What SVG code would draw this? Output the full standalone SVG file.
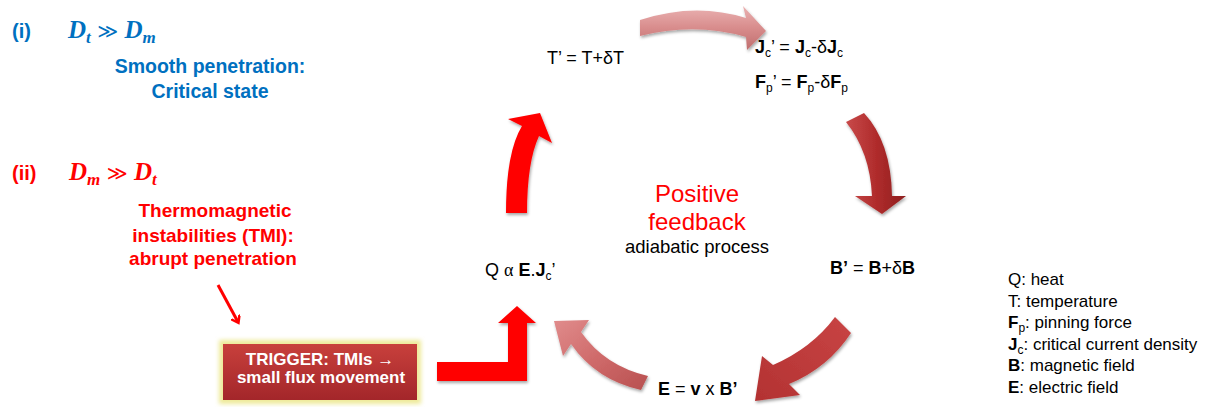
<svg xmlns="http://www.w3.org/2000/svg" width="1207" height="407" viewBox="0 0 1207 407">
<style>
.cal{font-family:"Liberation Sans",Arial,sans-serif;}
.b{font-weight:bold;}
.blue{fill:#0070C0;}
.red{fill:#FF0000;}
.math{font-family:"Liberation Serif","Times New Roman",serif;font-weight:bold;font-style:italic;}
.eq{font-family:"Liberation Sans",Arial,sans-serif;font-size:18px;fill:#000;}
.leg{font-family:"Liberation Sans",Arial,sans-serif;font-size:17px;fill:#000;}
.ctr{text-anchor:middle;}
</style>
<defs>
<linearGradient id="pinkTop" x1="0" y1="0" x2="0" y2="1">
<stop offset="0" stop-color="#eab2b2"/>
<stop offset="0.5" stop-color="#d88c8c"/>
<stop offset="1" stop-color="#c06e6e"/>
</linearGradient>
<linearGradient id="pinkBot" x1="0" y1="0" x2="1" y2="1">
<stop offset="0" stop-color="#e08c8c"/>
<stop offset="0.5" stop-color="#cf6a6a"/>
<stop offset="1" stop-color="#b85050"/>
</linearGradient>
<linearGradient id="darkRed" x1="0" y1="0" x2="1" y2="0">
<stop offset="0" stop-color="#c84a4a"/>
<stop offset="0.5" stop-color="#b02c2c"/>
<stop offset="1" stop-color="#8e1e1e"/>
</linearGradient>
<linearGradient id="darkRed2" x1="1" y1="0" x2="0" y2="1">
<stop offset="0" stop-color="#c84444"/>
<stop offset="1" stop-color="#b33232"/>
</linearGradient>
<linearGradient id="trig" x1="0" y1="0" x2="0" y2="1">
<stop offset="0" stop-color="#c8403c"/>
<stop offset="1" stop-color="#a3262a"/>
</linearGradient>
<filter id="sh" x="-20%" y="-20%" width="140%" height="140%">
<feDropShadow dx="1" dy="2" stdDeviation="1.5" flood-color="#000" flood-opacity="0.35"/>
</filter>
<filter id="glow" x="-20%" y="-30%" width="140%" height="160%">
<feGaussianBlur stdDeviation="2"/>
</filter>
<marker id="ah" markerWidth="10" markerHeight="10" refX="6" refY="5" orient="auto" markerUnits="userSpaceOnUse">
<path d="M0,0 L7,5 L0,10" fill="none" stroke="#FF0000" stroke-width="2.5"/>
</marker>
</defs>
<rect width="1207" height="407" fill="#fff"/>

<g id="note-i">
<text x="12" y="38" class="cal b blue" font-size="20">(i)</text>
<text x="68" y="38" class="math blue" font-size="25">D<tspan font-size="17" dy="5">t</tspan><tspan dy="-5" font-style="normal" font-weight="normal" font-family="DejaVu Sans, sans-serif" font-size="20"> ≫ </tspan>D<tspan font-size="17" dy="5">m</tspan></text>
<text x="210" y="73" class="cal b blue ctr" font-size="19.5">Smooth penetration:</text>
<text x="210" y="98" class="cal b blue ctr" font-size="19.5">Critical state</text>
</g>

<g id="note-ii">
<text x="12" y="180" class="cal b red" font-size="20">(ii)</text>
<text x="69" y="180" class="math red" font-size="25">D<tspan font-size="17" dy="5">m</tspan><tspan dy="-5" font-style="normal" font-weight="normal" font-family="DejaVu Sans, sans-serif" font-size="20"> ≫ </tspan>D<tspan font-size="17" dy="5">t</tspan></text>
<text x="215" y="217" class="cal b red ctr" font-size="19">Thermomagnetic</text>
<text x="213" y="242" class="cal b red ctr" font-size="19">instabilities (TMI):</text>
<text x="213" y="265" class="cal b red ctr" font-size="19">abrupt penetration</text>
</g>

<g id="trigger">
<rect x="219" y="340" width="202" height="64" fill="#eeea9a" filter="url(#glow)"/>
<rect x="223" y="344" width="194" height="56" fill="url(#trig)"/>
<text x="320" y="365" class="cal b ctr" font-size="17" fill="#fff">TRIGGER: TMIs →</text>
<text x="321" y="383" class="cal b ctr" font-size="17" fill="#fff">small flux movement</text>
</g>

<g id="node-T">
<text x="547" y="64" class="eq">T’ = T+δT</text>
</g>

<g id="node-J">
<text x="755" y="53" class="eq"><tspan class="b">J</tspan><tspan font-size="12" dy="4">c</tspan><tspan dy="-4">’ = </tspan><tspan class="b">J</tspan><tspan font-size="12" dy="4">c</tspan><tspan dy="-4">-δ</tspan><tspan class="b">J</tspan><tspan font-size="12" dy="4">c</tspan></text>
<text x="755" y="88" class="eq"><tspan class="b">F</tspan><tspan font-size="12" dy="4">p</tspan><tspan dy="-4">’ = </tspan><tspan class="b">F</tspan><tspan font-size="12" dy="4">p</tspan><tspan dy="-4">-δ</tspan><tspan class="b">F</tspan><tspan font-size="12" dy="4">p</tspan></text>
</g>

<g id="node-B">
<text x="830" y="274" class="eq"><tspan class="b">B’</tspan> = <tspan class="b">B</tspan>+δ<tspan class="b">B</tspan></text>
</g>

<g id="node-E">
<text x="658" y="395" class="eq"><tspan class="b">E</tspan> = <tspan class="b">v</tspan> x <tspan class="b">B’</tspan></text>
</g>

<g id="node-Q">
<text x="485" y="276" class="eq">Q <tspan font-family="Liberation Serif, serif">α</tspan> <tspan class="b">E</tspan>.<tspan class="b">J</tspan><tspan font-size="12" dy="4">c</tspan><tspan dy="-4">’</tspan></text>
</g>

<g id="center">
<text x="697" y="202" class="cal red ctr" font-size="24">Positive</text>
<text x="697" y="230" class="cal red ctr" font-size="24">feedback</text>
<text x="697" y="253" class="cal ctr" font-size="18.5" fill="#000">adiabatic process</text>
</g>

<g id="legend">
<text x="1008" y="285" class="leg">Q: heat</text>
<text x="1008" y="306.5" class="leg">T: temperature</text>
<text x="1008" y="328" class="leg"><tspan class="b">F</tspan><tspan font-size="12" dy="4">p</tspan><tspan dy="-4">: pinning force</tspan></text>
<text x="1008" y="349.5" class="leg"><tspan class="b">J</tspan><tspan font-size="12" dy="4">c</tspan><tspan dy="-4">: critical current density</tspan></text>
<text x="1008" y="371" class="leg"><tspan class="b">B</tspan>: magnetic field</text>
<text x="1008" y="392.5" class="leg"><tspan class="b">E</tspan>: electric field</text>
</g>

<g id="connectors">
<line x1="218" y1="285" x2="238" y2="322" stroke="#FF0000" stroke-width="3" marker-end="url(#ah)"/>
<path id="arrow-L" d="M437,362 L508,362 L508,323 L498,323 L517,306 L536,323 L527,323 L527,381 L437,381 Z" fill="#FF0000" filter="url(#sh)"/>
<path id="arrow-up" d="M506,213 Q506,152 522,126 L508,119 L540,113 L552,143 L539,136 Q527,162 527,213 Z" fill="#FF0000" filter="url(#sh)"/>
<path id="arrow-top" d="M640,20 Q695,2 746,18 L743,6 L766,31 L747,50 L746,37 Q695,22 640,36 Z" fill="url(#pinkTop)" filter="url(#sh)"/>
<path id="arrow-right" d="M846,122 L864,113 Q891,142 892,196 L906,196 L882,214 L855,196 L872,196 Q870,152 846,122 Z" fill="url(#darkRed)" filter="url(#sh)"/>
<path id="arrow-br" d="M835,317 L851,333 Q828,368 789,384 L800,395 L755,401 L762,356 L773,365 Q812,348 835,317 Z" fill="url(#darkRed2)" filter="url(#sh)"/>
<path id="arrow-bl" d="M648,376 Q605,366 581,332 L589,320 L554,321 L563,356 L571,344 Q596,380 641,390 Z" fill="url(#pinkBot)" filter="url(#sh)"/>
</g>
</svg>
